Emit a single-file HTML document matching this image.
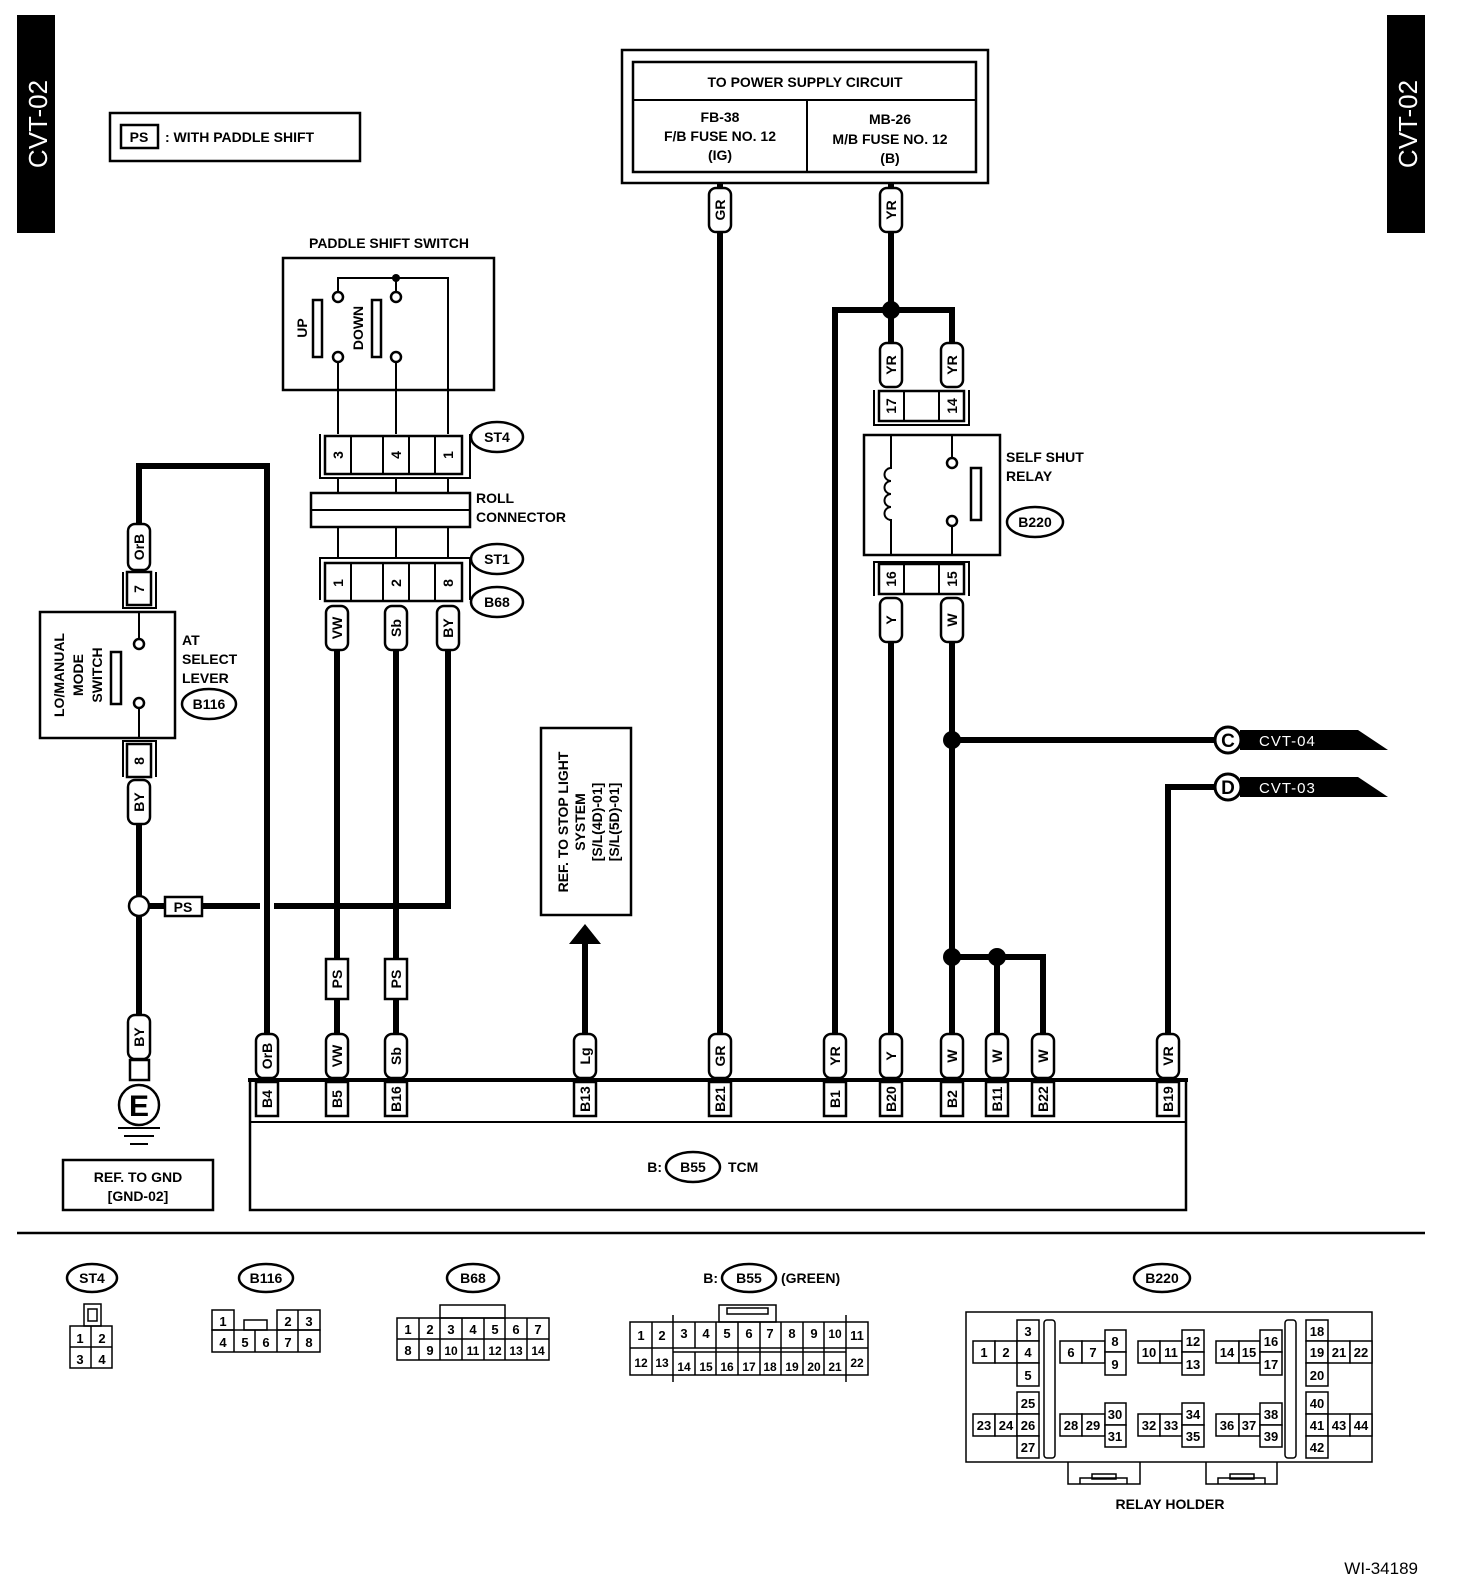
<!DOCTYPE html>
<html><head><meta charset="utf-8"><style>
html,body{margin:0;padding:0;background:#fff;width:1472px;height:1588px;overflow:hidden}
svg{display:block}
text{font-family:"Liberation Sans",Arial,sans-serif;font-weight:bold;fill:#000}
</style></head><body>
<svg width="1472" height="1588" viewBox="0 0 1472 1588" xmlns="http://www.w3.org/2000/svg">
<defs>
<style>
.w{stroke:#000;stroke-width:6;fill:none}
.t{stroke:#000;stroke-width:2;fill:none}
.b{stroke:#000;stroke-width:2.5;fill:#fff}
.lbl{font-size:14px}
.sm{font-size:13px;font-weight:normal}
</style>
</defs>

<rect x="17" y="15" width="38" height="218" fill="#000"/>
<text transform="translate(38,124) rotate(-90)" text-anchor="middle" dominant-baseline="central" style="fill:#fff;font-size:26px;font-weight:normal">CVT-02</text>
<rect x="1387" y="15" width="38" height="218" fill="#000"/>
<text transform="translate(1408,124) rotate(-90)" text-anchor="middle" dominant-baseline="central" style="fill:#fff;font-size:26px;font-weight:normal">CVT-02</text>

<rect x="110" y="113" width="250" height="48" class="b"/>
<rect x="121" y="125" width="37" height="23" class="b"/>
<text x="139" y="142" text-anchor="middle" class="lbl">PS</text>
<text x="165" y="142" class="lbl">: WITH PADDLE SHIFT</text>

<rect x="622" y="50" width="366" height="133" class="b"/>
<rect x="633" y="62" width="343" height="110" class="b"/>
<line x1="633" y1="100" x2="976" y2="100" class="t"/>
<line x1="807" y1="100" x2="807" y2="172" class="t"/>
<text x="805" y="87" text-anchor="middle" class="lbl">TO POWER SUPPLY CIRCUIT</text>
<text x="720" y="122" text-anchor="middle" class="lbl">FB-38</text>
<text x="720" y="141" text-anchor="middle" class="lbl">F/B FUSE NO. 12</text>
<text x="720" y="160" text-anchor="middle" class="lbl">(IG)</text>
<text x="890" y="124" text-anchor="middle" class="lbl">MB-26</text>
<text x="890" y="144" text-anchor="middle" class="lbl">M/B FUSE NO. 12</text>
<text x="890" y="163" text-anchor="middle" class="lbl">(B)</text>

<polyline points="720,183 720,1080" class="w"/>
<polyline points="891,183 891,345" class="w"/>
<polyline points="835,1080 835,310 952,310 952,345" class="w"/>
<polyline points="891,640 891,1080" class="w"/>
<polyline points="952,640 952,1080" class="w"/>
<polyline points="952,740 1215,740" class="w"/>
<polyline points="1168,1080 1168,787 1215,787" class="w"/>
<polyline points="952,957 1043,957 1043,1080" class="w"/>
<polyline points="997,957 997,1080" class="w"/>
<circle cx="891" cy="310" r="9" fill="#000"/>
<circle cx="952" cy="740" r="9" fill="#000"/>
<circle cx="952" cy="957" r="9" fill="#000"/>
<circle cx="997" cy="957" r="9" fill="#000"/>

<polyline points="139,525 139,466 267,466 267,1080" class="w"/>
<polyline points="139,825 139,1018" class="w"/>
<polyline points="149,906 448,906 448,650" class="w"/>
<line x1="260" y1="906" x2="274" y2="906" stroke="#fff" stroke-width="10"/>
<polyline points="267,895 267,917" class="w"/>
<polyline points="337,650 337,1080" class="w"/>
<polyline points="396,650 396,1080" class="w"/>
<circle cx="139" cy="906" r="10" class="b"/>
<rect x="165" y="897" width="37" height="19" class="b"/>
<text x="183" y="912" text-anchor="middle" class="lbl">PS</text>

<text x="389" y="248" text-anchor="middle" class="lbl">PADDLE SHIFT SWITCH</text>
<rect x="283" y="258" width="211" height="132" class="b"/>
<polyline points="338,293 338,278 448,278 448,434" class="t"/>
<line x1="396" y1="278" x2="396" y2="292" class="t"/>
<circle cx="396" cy="278" r="4" fill="#000"/>
<circle cx="338" cy="297" r="5" class="b"/>
<circle cx="396" cy="297" r="5" class="b"/>
<circle cx="338" cy="357" r="5" class="b"/>
<circle cx="396" cy="357" r="5" class="b"/>
<line x1="338" y1="362" x2="338" y2="434" class="t"/>
<line x1="396" y1="362" x2="396" y2="434" class="t"/>
<rect x="313" y="300" width="9" height="57" class="b" stroke-width="2"/>
<rect x="372" y="300" width="9" height="57" class="b" stroke-width="2"/>
<text transform="translate(302,328) rotate(-90)" text-anchor="middle" dominant-baseline="central" class="lbl">UP</text>
<text transform="translate(358,328) rotate(-90)" text-anchor="middle" dominant-baseline="central" class="lbl">DOWN</text>

<polyline points="320,434 320,478 470,478 470,434" class="t"/>
<rect x="325" y="436" width="137" height="38" class="b" stroke-width="2"/>
<line x1="351" y1="436" x2="351" y2="474" class="t"/>
<line x1="383" y1="436" x2="383" y2="474" class="t"/>
<line x1="409" y1="436" x2="409" y2="474" class="t"/>
<line x1="435" y1="436" x2="435" y2="474" class="t"/>
<text transform="translate(338,455) rotate(-90)" text-anchor="middle" dominant-baseline="central" class="lbl">3</text>
<text transform="translate(396,455) rotate(-90)" text-anchor="middle" dominant-baseline="central" class="lbl">4</text>
<text transform="translate(448,455) rotate(-90)" text-anchor="middle" dominant-baseline="central" class="lbl">1</text>
<ellipse cx="497" cy="437" rx="26" ry="15" class="b" stroke-width="2"/>
<text x="497" y="442" text-anchor="middle" class="lbl">ST4</text>
<line x1="338" y1="478" x2="338" y2="558" class="t"/>
<line x1="396" y1="478" x2="396" y2="558" class="t"/>
<line x1="448" y1="478" x2="448" y2="558" class="t"/>
<rect x="311" y="493" width="159" height="34" class="b"/>
<line x1="311" y1="510" x2="470" y2="510" class="t"/>
<text x="476" y="503" class="lbl">ROLL</text>
<text x="476" y="522" class="lbl">CONNECTOR</text>
<polyline points="320,600 320,558 470,558 470,600" class="t"/>
<rect x="325" y="563" width="137" height="38" class="b" stroke-width="2"/>
<line x1="351" y1="563" x2="351" y2="601" class="t"/>
<line x1="383" y1="563" x2="383" y2="601" class="t"/>
<line x1="409" y1="563" x2="409" y2="601" class="t"/>
<line x1="435" y1="563" x2="435" y2="601" class="t"/>
<text transform="translate(338,583) rotate(-90)" text-anchor="middle" dominant-baseline="central" class="lbl">1</text>
<text transform="translate(396,583) rotate(-90)" text-anchor="middle" dominant-baseline="central" class="lbl">2</text>
<text transform="translate(448,583) rotate(-90)" text-anchor="middle" dominant-baseline="central" class="lbl">8</text>
<ellipse cx="497" cy="559" rx="26" ry="15" class="b" stroke-width="2"/>
<text x="497" y="564" text-anchor="middle" class="lbl">ST1</text>
<ellipse cx="497" cy="602" rx="26" ry="15" class="b" stroke-width="2"/>
<text x="497" y="607" text-anchor="middle" class="lbl">B68</text>

<polyline points="123,572 123,608 156,608 156,572" class="t"/>
<rect x="127" y="572" width="24" height="33" class="b" stroke-width="2"/>
<text transform="translate(139,589) rotate(-90)" text-anchor="middle" dominant-baseline="central" class="lbl">7</text>
<rect x="40" y="612" width="135" height="126" class="b"/>
<line x1="139" y1="612" x2="139" y2="639" class="t"/>
<circle cx="139" cy="644" r="5" class="b"/>
<circle cx="139" cy="703" r="5" class="b"/>
<line x1="139" y1="708" x2="139" y2="738" class="t"/>
<rect x="111" y="652" width="10" height="52" class="b" stroke-width="2"/>
<text transform="translate(59,675) rotate(-90)" text-anchor="middle" dominant-baseline="central" class="lbl">LO/MANUAL</text>
<text transform="translate(78,675) rotate(-90)" text-anchor="middle" dominant-baseline="central" class="lbl">MODE</text>
<text transform="translate(97,675) rotate(-90)" text-anchor="middle" dominant-baseline="central" class="lbl">SWITCH</text>
<text x="182" y="645" class="lbl">AT</text>
<text x="182" y="664" class="lbl">SELECT</text>
<text x="182" y="683" class="lbl">LEVER</text>
<ellipse cx="209" cy="704" rx="27" ry="15" class="b" stroke-width="2"/>
<text x="209" y="709" text-anchor="middle" class="lbl">B116</text>
<polyline points="123,777 123,741 156,741 156,777" class="t"/>
<rect x="127" y="744" width="24" height="33" class="b" stroke-width="2"/>
<text transform="translate(139,761) rotate(-90)" text-anchor="middle" dominant-baseline="central" class="lbl">8</text>

<rect x="130" y="1060" width="19" height="20" class="b" stroke-width="2"/>
<circle cx="139" cy="1105" r="20" class="b" stroke-width="2.5"/>
<text x="139" y="1116" text-anchor="middle" style="font-size:30px">E</text>
<line x1="118" y1="1128" x2="160" y2="1128" class="t"/>
<line x1="124" y1="1136" x2="154" y2="1136" class="t"/>
<line x1="130" y1="1144" x2="148" y2="1144" class="t"/>
<rect x="63" y="1160" width="150" height="50" class="b"/>
<text x="138" y="1182" text-anchor="middle" class="lbl">REF. TO GND</text>
<text x="138" y="1201" text-anchor="middle" class="lbl">[GND-02]</text>

<polyline points="874,390 874,425 969,425 969,390" class="t"/>
<rect x="879" y="391" width="85" height="30" class="b" stroke-width="2"/>
<line x1="904" y1="391" x2="904" y2="421" class="t"/>
<line x1="939" y1="391" x2="939" y2="421" class="t"/>
<text transform="translate(891,406) rotate(-90)" text-anchor="middle" dominant-baseline="central" class="lbl">17</text>
<text transform="translate(952,406) rotate(-90)" text-anchor="middle" dominant-baseline="central" class="lbl">14</text>
<rect x="864" y="435" width="136" height="120" class="b"/>
<path d="M905,435 V468 a6,6 0 0 0 0,13 a6,6 0 0 0 0,13 a6,6 0 0 0 0,13 a6,6 0 0 0 0,13 V555" class="t" transform="translate(-14,0)"/>
<line x1="952" y1="435" x2="952" y2="458" class="t"/>
<circle cx="952" cy="463" r="5" class="b"/>
<circle cx="952" cy="521" r="5" class="b"/>
<line x1="952" y1="526" x2="952" y2="555" class="t"/>
<rect x="971" y="468" width="10" height="52" class="b" stroke-width="2"/>
<text x="1006" y="462" class="lbl">SELF SHUT</text>
<text x="1006" y="481" class="lbl">RELAY</text>
<ellipse cx="1035" cy="522" rx="28" ry="15" class="b" stroke-width="2"/>
<text x="1035" y="527" text-anchor="middle" class="lbl">B220</text>
<polyline points="874,596 874,562 969,562 969,596" class="t"/>
<rect x="879" y="564" width="85" height="30" class="b" stroke-width="2"/>
<line x1="904" y1="564" x2="904" y2="594" class="t"/>
<line x1="939" y1="564" x2="939" y2="594" class="t"/>
<text transform="translate(891,579) rotate(-90)" text-anchor="middle" dominant-baseline="central" class="lbl">16</text>
<text transform="translate(952,579) rotate(-90)" text-anchor="middle" dominant-baseline="central" class="lbl">15</text>

<polygon points="1240,730 1358,730 1388,750 1240,750" fill="#000"/>
<text x="1259" y="746" style="fill:#fff;font-size:15px;font-weight:normal;letter-spacing:1px">CVT-04</text>
<circle cx="1228" cy="740" r="13" fill="#fff" stroke="#000" stroke-width="3"/>
<text x="1228" y="747" text-anchor="middle" style="font-size:19px">C</text>
<polygon points="1240,777 1358,777 1388,797 1240,797" fill="#000"/>
<text x="1259" y="793" style="fill:#fff;font-size:15px;font-weight:normal;letter-spacing:1px">CVT-03</text>
<circle cx="1228" cy="787" r="13" fill="#fff" stroke="#000" stroke-width="3"/>
<text x="1228" y="794" text-anchor="middle" style="font-size:19px">D</text>

<rect x="541" y="728" width="90" height="187" class="b"/>
<text transform="translate(563,822) rotate(-90)" text-anchor="middle" dominant-baseline="central" class="lbl">REF. TO STOP LIGHT</text>
<text transform="translate(580,822) rotate(-90)" text-anchor="middle" dominant-baseline="central" class="lbl">SYSTEM</text>
<text transform="translate(597,822) rotate(-90)" text-anchor="middle" dominant-baseline="central" class="lbl">[S/L(4D)-01]</text>
<text transform="translate(614,822) rotate(-90)" text-anchor="middle" dominant-baseline="central" class="lbl">[S/L(5D)-01]</text>
<polygon points="585,924 569,944 601,944" fill="#000"/>
<line x1="585" y1="940" x2="585" y2="1080" class="w"/>

<g class="lbl">
<rect x="709" y="188" width="22" height="44" rx="7" class="b" stroke-width="2"/><text transform="translate(720,210) rotate(-90)" text-anchor="middle" dominant-baseline="central">GR</text>
<rect x="880" y="188" width="22" height="44" rx="7" class="b" stroke-width="2"/><text transform="translate(891,210) rotate(-90)" text-anchor="middle" dominant-baseline="central">YR</text>
<rect x="880" y="343" width="22" height="44" rx="7" class="b" stroke-width="2"/><text transform="translate(891,365) rotate(-90)" text-anchor="middle" dominant-baseline="central">YR</text>
<rect x="941" y="343" width="22" height="44" rx="7" class="b" stroke-width="2"/><text transform="translate(952,365) rotate(-90)" text-anchor="middle" dominant-baseline="central">YR</text>
<rect x="880" y="598" width="22" height="44" rx="7" class="b" stroke-width="2"/><text transform="translate(891,620) rotate(-90)" text-anchor="middle" dominant-baseline="central">Y</text>
<rect x="941" y="598" width="22" height="44" rx="7" class="b" stroke-width="2"/><text transform="translate(952,620) rotate(-90)" text-anchor="middle" dominant-baseline="central">W</text>
<rect x="326" y="606" width="22" height="44" rx="7" class="b" stroke-width="2"/><text transform="translate(337,628) rotate(-90)" text-anchor="middle" dominant-baseline="central">VW</text>
<rect x="385" y="606" width="22" height="44" rx="7" class="b" stroke-width="2"/><text transform="translate(396,628) rotate(-90)" text-anchor="middle" dominant-baseline="central">Sb</text>
<rect x="437" y="606" width="22" height="44" rx="7" class="b" stroke-width="2"/><text transform="translate(448,628) rotate(-90)" text-anchor="middle" dominant-baseline="central">BY</text>
<rect x="128" y="524" width="22" height="46" rx="7" class="b" stroke-width="2"/><text transform="translate(139,547) rotate(-90)" text-anchor="middle" dominant-baseline="central">OrB</text>
<rect x="128" y="780" width="22" height="44" rx="7" class="b" stroke-width="2"/><text transform="translate(139,802) rotate(-90)" text-anchor="middle" dominant-baseline="central">BY</text>
<rect x="128" y="1015" width="22" height="44" rx="7" class="b" stroke-width="2"/><text transform="translate(139,1037) rotate(-90)" text-anchor="middle" dominant-baseline="central">BY</text>
<rect x="326" y="959" width="22" height="40" class="b" stroke-width="2"/><text transform="translate(337,979) rotate(-90)" text-anchor="middle" dominant-baseline="central">PS</text>
<rect x="385" y="959" width="22" height="40" class="b" stroke-width="2"/><text transform="translate(396,979) rotate(-90)" text-anchor="middle" dominant-baseline="central">PS</text>

<rect x="256" y="1034" width="22" height="44" rx="7" class="b" stroke-width="2"/><text transform="translate(267,1056) rotate(-90)" text-anchor="middle" dominant-baseline="central">OrB</text>
<rect x="326" y="1034" width="22" height="44" rx="7" class="b" stroke-width="2"/><text transform="translate(337,1056) rotate(-90)" text-anchor="middle" dominant-baseline="central">VW</text>
<rect x="385" y="1034" width="22" height="44" rx="7" class="b" stroke-width="2"/><text transform="translate(396,1056) rotate(-90)" text-anchor="middle" dominant-baseline="central">Sb</text>
<rect x="574" y="1034" width="22" height="44" rx="7" class="b" stroke-width="2"/><text transform="translate(585,1056) rotate(-90)" text-anchor="middle" dominant-baseline="central">Lg</text>
<rect x="709" y="1034" width="22" height="44" rx="7" class="b" stroke-width="2"/><text transform="translate(720,1056) rotate(-90)" text-anchor="middle" dominant-baseline="central">GR</text>
<rect x="824" y="1034" width="22" height="44" rx="7" class="b" stroke-width="2"/><text transform="translate(835,1056) rotate(-90)" text-anchor="middle" dominant-baseline="central">YR</text>
<rect x="880" y="1034" width="22" height="44" rx="7" class="b" stroke-width="2"/><text transform="translate(891,1056) rotate(-90)" text-anchor="middle" dominant-baseline="central">Y</text>
<rect x="941" y="1034" width="22" height="44" rx="7" class="b" stroke-width="2"/><text transform="translate(952,1056) rotate(-90)" text-anchor="middle" dominant-baseline="central">W</text>
<rect x="986" y="1034" width="22" height="44" rx="7" class="b" stroke-width="2"/><text transform="translate(997,1056) rotate(-90)" text-anchor="middle" dominant-baseline="central">W</text>
<rect x="1032" y="1034" width="22" height="44" rx="7" class="b" stroke-width="2"/><text transform="translate(1043,1056) rotate(-90)" text-anchor="middle" dominant-baseline="central">W</text>
<rect x="1157" y="1034" width="22" height="44" rx="7" class="b" stroke-width="2"/><text transform="translate(1168,1056) rotate(-90)" text-anchor="middle" dominant-baseline="central">VR</text>
</g>

<rect x="250" y="1080" width="936" height="130" class="b"/>
<line x1="248" y1="1080" x2="1188" y2="1080" stroke="#000" stroke-width="4"/>
<line x1="250" y1="1122" x2="1186" y2="1122" class="t"/>
<g class="lbl">
<rect x="256" y="1082" width="22" height="34" class="b" stroke-width="2"/><text transform="translate(267,1099) rotate(-90)" text-anchor="middle" dominant-baseline="central">B4</text>
<rect x="326" y="1082" width="22" height="34" class="b" stroke-width="2"/><text transform="translate(337,1099) rotate(-90)" text-anchor="middle" dominant-baseline="central">B5</text>
<rect x="385" y="1082" width="22" height="34" class="b" stroke-width="2"/><text transform="translate(396,1099) rotate(-90)" text-anchor="middle" dominant-baseline="central">B16</text>
<rect x="574" y="1082" width="22" height="34" class="b" stroke-width="2"/><text transform="translate(585,1099) rotate(-90)" text-anchor="middle" dominant-baseline="central">B13</text>
<rect x="709" y="1082" width="22" height="34" class="b" stroke-width="2"/><text transform="translate(720,1099) rotate(-90)" text-anchor="middle" dominant-baseline="central">B21</text>
<rect x="824" y="1082" width="22" height="34" class="b" stroke-width="2"/><text transform="translate(835,1099) rotate(-90)" text-anchor="middle" dominant-baseline="central">B1</text>
<rect x="880" y="1082" width="22" height="34" class="b" stroke-width="2"/><text transform="translate(891,1099) rotate(-90)" text-anchor="middle" dominant-baseline="central">B20</text>
<rect x="941" y="1082" width="22" height="34" class="b" stroke-width="2"/><text transform="translate(952,1099) rotate(-90)" text-anchor="middle" dominant-baseline="central">B2</text>
<rect x="986" y="1082" width="22" height="34" class="b" stroke-width="2"/><text transform="translate(997,1099) rotate(-90)" text-anchor="middle" dominant-baseline="central">B11</text>
<rect x="1032" y="1082" width="22" height="34" class="b" stroke-width="2"/><text transform="translate(1043,1099) rotate(-90)" text-anchor="middle" dominant-baseline="central">B22</text>
<rect x="1157" y="1082" width="22" height="34" class="b" stroke-width="2"/><text transform="translate(1168,1099) rotate(-90)" text-anchor="middle" dominant-baseline="central">B19</text>
</g>
<text x="662" y="1172" text-anchor="end" class="lbl">B:</text>
<ellipse cx="693" cy="1167" rx="27" ry="15" class="b" stroke-width="2"/>
<text x="693" y="1172" text-anchor="middle" class="lbl">B55</text>
<text x="728" y="1172" class="lbl">TCM</text>

<line x1="17" y1="1233" x2="1425" y2="1233" stroke="#000" stroke-width="2.5"/>

<g class="lbl">
<ellipse cx="92" cy="1278" rx="25" ry="14" class="b" stroke-width="2"/><text x="92" y="1283" text-anchor="middle">ST4</text>
<ellipse cx="266" cy="1278" rx="27" ry="14" class="b" stroke-width="2"/><text x="266" y="1283" text-anchor="middle">B116</text>
<ellipse cx="473" cy="1278" rx="26" ry="14" class="b" stroke-width="2"/><text x="473" y="1283" text-anchor="middle">B68</text>
<text x="718" y="1283" text-anchor="end">B:</text>
<ellipse cx="749" cy="1278" rx="27" ry="14" class="b" stroke-width="2"/><text x="749" y="1283" text-anchor="middle">B55</text>
<text x="781" y="1283">(GREEN)</text>
<ellipse cx="1162" cy="1278" rx="28" ry="14" class="b" stroke-width="2"/><text x="1162" y="1283" text-anchor="middle">B220</text>
</g>

<g fill="none" stroke="#000" stroke-width="1.5" font-size="14">
<rect x="84" y="1304" width="17" height="22"/><rect x="88" y="1309" width="9" height="12"/>
<rect x="70" y="1326" width="42" height="42"/><line x1="91" y1="1326" x2="91" y2="1368"/><line x1="70" y1="1347" x2="112" y2="1347"/>
</g>
<g class="sm" text-anchor="middle" font-size="14">
<text x="80" y="1343">1</text><text x="102" y="1343">2</text><text x="80" y="1364">3</text><text x="102" y="1364">4</text>
</g>
<g fill="none" stroke="#000" stroke-width="1.5">
<rect x="212" y="1310" width="22" height="20"/>
<rect x="277" y="1310" width="43" height="20"/><line x1="298" y1="1310" x2="298" y2="1330"/>
<rect x="244" y="1320" width="23" height="10"/>
<rect x="212" y="1330" width="108" height="22"/>
<line x1="234" y1="1330" x2="234" y2="1352"/><line x1="255" y1="1330" x2="255" y2="1352"/><line x1="277" y1="1330" x2="277" y2="1352"/><line x1="298" y1="1330" x2="298" y2="1352"/>
<rect x="440" y="1305" width="65" height="13"/>
<rect x="397" y="1318" width="152" height="42"/>
<line x1="397" y1="1339" x2="549" y2="1339"/>
<line x1="419" y1="1318" x2="419" y2="1360"/><line x1="440" y1="1318" x2="440" y2="1360"/><line x1="462" y1="1318" x2="462" y2="1360"/><line x1="484" y1="1318" x2="484" y2="1360"/><line x1="505" y1="1318" x2="505" y2="1360"/><line x1="527" y1="1318" x2="527" y2="1360"/>
<rect x="719" y="1305" width="57" height="17"/><rect x="727" y="1308" width="41" height="6"/>
<rect x="630" y="1322" width="238" height="53"/>
<line x1="673" y1="1348" x2="846" y2="1348"/>
<line x1="673" y1="1352" x2="846" y2="1352"/>
<line x1="630" y1="1348" x2="673" y2="1348"/><line x1="846" y1="1348" x2="868" y2="1348"/>
<line x1="652" y1="1322" x2="652" y2="1375"/><line x1="673" y1="1315" x2="673" y2="1382"/>
<line x1="695" y1="1322" x2="695" y2="1348"/><line x1="716" y1="1322" x2="716" y2="1375"/><line x1="738" y1="1322" x2="738" y2="1375"/><line x1="760" y1="1322" x2="760" y2="1375"/><line x1="781" y1="1322" x2="781" y2="1375"/><line x1="803" y1="1322" x2="803" y2="1375"/><line x1="824" y1="1322" x2="824" y2="1375"/><line x1="846" y1="1315" x2="846" y2="1382"/>
<line x1="695" y1="1352" x2="695" y2="1375"/>
</g>
<g class="sm" text-anchor="middle" font-size="14">
<text x="223" y="1326">1</text><text x="288" y="1326">2</text><text x="309" y="1326">3</text>
<text x="223" y="1347">4</text><text x="245" y="1347">5</text><text x="266" y="1347">6</text><text x="288" y="1347">7</text><text x="309" y="1347">8</text>
<text x="408" y="1334">1</text><text x="430" y="1334">2</text><text x="451" y="1334">3</text><text x="473" y="1334">4</text><text x="495" y="1334">5</text><text x="516" y="1334">6</text><text x="538" y="1334">7</text>
<text x="408" y="1355">8</text><text x="430" y="1355">9</text><text x="451" y="1355" font-size="12">10</text><text x="473" y="1355" font-size="12">11</text><text x="495" y="1355" font-size="12">12</text><text x="516" y="1355" font-size="12">13</text><text x="538" y="1355" font-size="12">14</text>
<text x="641" y="1340">1</text><text x="662" y="1340">2</text><text x="684" y="1338">3</text><text x="706" y="1338">4</text><text x="727" y="1338">5</text><text x="749" y="1338">6</text><text x="770" y="1338">7</text><text x="792" y="1338">8</text><text x="814" y="1338">9</text><text x="835" y="1338" font-size="12">10</text><text x="857" y="1340">11</text>
<text x="641" y="1367" font-size="12">12</text><text x="662" y="1367" font-size="12">13</text><text x="684" y="1371" font-size="12">14</text><text x="706" y="1371" font-size="12">15</text><text x="727" y="1371" font-size="12">16</text><text x="749" y="1371" font-size="12">17</text><text x="770" y="1371" font-size="12">18</text><text x="792" y="1371" font-size="12">19</text><text x="814" y="1371" font-size="12">20</text><text x="835" y="1371" font-size="12">21</text><text x="857" y="1367" font-size="12">22</text>
</g>

<g fill="none" stroke="#000" stroke-width="1.5">
<rect x="966" y="1312" width="406" height="150"/>
<rect x="1044" y="1320" width="11" height="138" rx="3"/>
<rect x="1285" y="1320" width="11" height="138" rx="3"/>
<polyline points="1068,1462 1068,1484 1140,1484 1140,1462"/>
<polyline points="1080,1484 1080,1478 1127,1478 1127,1484"/><rect x="1092" y="1474" width="24" height="5"/>
<polyline points="1206,1462 1206,1484 1277,1484 1277,1462"/>
<polyline points="1218,1484 1218,1478 1265,1478 1265,1484"/><rect x="1230" y="1474" width="24" height="5"/>
</g>
<g fill="#fff" stroke="#000" stroke-width="1.5">
<rect x="973" y="1341" width="22" height="22"/><rect x="995" y="1341" width="22" height="22"/>
<rect x="1017" y="1320" width="22" height="21"/><rect x="1017" y="1341" width="22" height="22"/><rect x="1017" y="1363" width="22" height="23"/>
<rect x="973" y="1414" width="22" height="22"/><rect x="995" y="1414" width="22" height="22"/>
<rect x="1017" y="1392" width="22" height="22"/><rect x="1017" y="1414" width="22" height="22"/><rect x="1017" y="1436" width="22" height="22"/>
<rect x="1060" y="1341" width="22" height="22"/><rect x="1082" y="1341" width="23" height="22"/><rect x="1105" y="1330" width="21" height="22"/><rect x="1105" y="1352" width="21" height="23"/>
<rect x="1138" y="1341" width="22" height="22"/><rect x="1160" y="1341" width="22" height="22"/><rect x="1182" y="1330" width="22" height="22"/><rect x="1182" y="1352" width="22" height="23"/>
<rect x="1216" y="1341" width="23" height="22"/><rect x="1239" y="1341" width="21" height="22"/><rect x="1260" y="1330" width="22" height="22"/><rect x="1260" y="1352" width="22" height="23"/>
<rect x="1060" y="1414" width="22" height="22"/><rect x="1082" y="1414" width="23" height="22"/><rect x="1105" y="1403" width="21" height="22"/><rect x="1105" y="1425" width="21" height="22"/>
<rect x="1138" y="1414" width="22" height="22"/><rect x="1160" y="1414" width="22" height="22"/><rect x="1182" y="1403" width="22" height="22"/><rect x="1182" y="1425" width="22" height="22"/>
<rect x="1216" y="1414" width="23" height="22"/><rect x="1239" y="1414" width="21" height="22"/><rect x="1260" y="1403" width="22" height="22"/><rect x="1260" y="1425" width="22" height="22"/>
<rect x="1306" y="1320" width="22" height="21"/><rect x="1306" y="1341" width="22" height="22"/><rect x="1306" y="1363" width="22" height="23"/><rect x="1328" y="1341" width="22" height="22"/><rect x="1350" y="1341" width="22" height="22"/>
<rect x="1306" y="1392" width="22" height="22"/><rect x="1306" y="1414" width="22" height="22"/><rect x="1306" y="1436" width="22" height="22"/><rect x="1328" y="1414" width="22" height="22"/><rect x="1350" y="1414" width="22" height="22"/>
</g>
<g class="sm" text-anchor="middle" font-size="14">
<text x="984" y="1357">1</text><text x="1006" y="1357">2</text><text x="1028" y="1336">3</text><text x="1028" y="1357">4</text><text x="1028" y="1380">5</text>
<text x="984" y="1430">23</text><text x="1006" y="1430">24</text><text x="1028" y="1408">25</text><text x="1028" y="1430">26</text><text x="1028" y="1452">27</text>
<text x="1071" y="1357">6</text><text x="1093" y="1357">7</text><text x="1115" y="1346">8</text><text x="1115" y="1369">9</text>
<text x="1149" y="1357">10</text><text x="1171" y="1357">11</text><text x="1193" y="1346">12</text><text x="1193" y="1369">13</text>
<text x="1227" y="1357">14</text><text x="1249" y="1357">15</text><text x="1271" y="1346">16</text><text x="1271" y="1369">17</text>
<text x="1071" y="1430">28</text><text x="1093" y="1430">29</text><text x="1115" y="1419">30</text><text x="1115" y="1441">31</text>
<text x="1149" y="1430">32</text><text x="1171" y="1430">33</text><text x="1193" y="1419">34</text><text x="1193" y="1441">35</text>
<text x="1227" y="1430">36</text><text x="1249" y="1430">37</text><text x="1271" y="1419">38</text><text x="1271" y="1441">39</text>
<text x="1317" y="1336">18</text><text x="1317" y="1357">19</text><text x="1317" y="1380">20</text><text x="1339" y="1357">21</text><text x="1361" y="1357">22</text>
<text x="1317" y="1408">40</text><text x="1317" y="1430">41</text><text x="1317" y="1452">42</text><text x="1339" y="1430">43</text><text x="1361" y="1430">44</text>
</g>
<text x="1170" y="1509" text-anchor="middle" class="lbl">RELAY HOLDER</text>
<text x="1418" y="1574" text-anchor="end" style="font-size:17px;font-weight:normal">WI-34189</text>
</svg>
</body></html>
